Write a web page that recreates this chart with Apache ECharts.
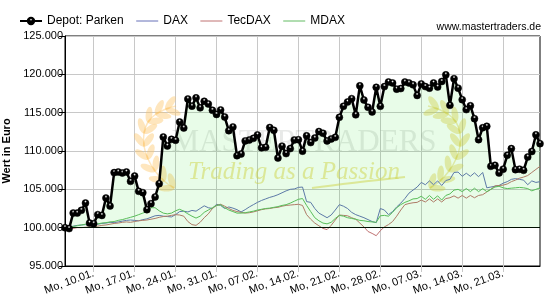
<!DOCTYPE html>
<html>
<head>
<meta charset="utf-8">
<script src="https://cdn.jsdelivr.net/npm/echarts@6/dist/echarts.min.js"></script>
<style>
html,body{margin:0;padding:0;background:#fff;}
#chart{width:550px;height:300px;}
</style>
</head>
<body>
<div id="chart"></div>
<script>
// ---- data (two quotes per trading day, 04.01. - 25.03.) ----
const depot = [
100000, 99880,101900,101900,102260,103210,100600,100520,101700,101600,
103860,102820,107180,107260,107130,107260,106040,106730,104740,104570,
102350,103130,104000,105740,111820,110650,111520,111390,113780,113000,
116780,115850,116930,115630,116480,116130,115310,114770,115350,114430,
112650,113130,109390,109600,111320,111430,111650,112100,110410,110480,
113060,112700,109080,110630,109660,110310,111430,111480,109980,111980,
111100,111680,112540,112310,111320,111560,111780,114390,115830,116390,
116830,114720,118500,116650,115700,115090,118300,115830,118400,119000,
118870,118070,118140,119000,118870,118630,117250,118750,118400,118200,
118870,118350,119060,119930,115960,119440,118200,116700,115400,115900,
114220,111480,113030,113220,108000,108130,107130,107630,109440,110310,
107570,107630,107480,109210,109930,112110,110960
];
const dax = [
100000,100050,100200,100300,100350,100400,100250,100300,100450,100550,
100600,100700,100650,100750,100850,100950,101000,100950,100900,101050,
101150,101350,101550,101600,101500,101450,101400,101700,102100,102150,
102050,102250,102150,102500,102850,102600,102500,103050,102900,102500,
102700,102550,102350,102050,102350,102700,103000,103300,103550,103750,
103950,104100,104300,104550,104800,105000,105050,105250,105300,103400,
103300,102500,101900,101600,101300,101650,102300,103000,102800,102500,
102000,101700,101500,101300,101050,100800,100650,102500,102300,101700,
102100,102700,103200,103800,104500,104900,105300,105900,105600,106100,
105600,106100,105500,106150,106300,107200,107250,106700,107100,106700,
107150,106650,107200,105200,105300,105400,105500,105800,106000,106300,
106400,106300,106200,105600,106100,105900,106000
];
const tecdax = [
100000, 99850, 99900,100000,100000,100050,100100,100100,100200,100300,
100350,100450,100550,100600,100700,100750,100700,100800,100900,100950,
101000,101100,101200,101350,101450,101500,101600,101700,101650,101500,
100800,100400,100300,100700,101300,101800,102500,102900,103050,102800,
102500,102250,102100,102000,101900,101950,102050,102200,102350,102450,
102500,102600,102650,102800,102900,102950,103000,103050,102900,101700,
101100,100600,100250, 99900, 99750,100300,101000,101650,101600,101550,
101300,101100,100600,100100, 99500, 99250, 98950, 99600,100100,100400,
100800,101500,102300,103000,103150,103250,103300,103600,103350,103750,
103350,103750,103350,103800,103900,104150,103850,104200,103850,104200,
103900,104200,104300,104650,105000,105450,105500,105550,105700,106000,
106200,106450,106600,106800,107200,107600,108000
];
const mdax = [
100000,100000,100150,100250,100350,100450,100300,100250,100500,100600,
100650,100750,100800,100950,101050,101200,101350,101500,101700,101900,
102100,102600,102600,102200,101900,101800,101900,102200,102400,102150,
101800,101500,101250,101500,102000,102300,102600,102900,103000,102600,
102300,102100,101900,101900,101950,102050,102150,102300,102400,102500,
102550,102650,102750,102900,103000,103200,103450,103700,103800,102900,
102100,101300,100900,100600,100500,100700,101200,101600,101500,101300,
101200,101100,100950,100900,100800,100750,100700,101550,101600,101500,
102000,102600,103000,103300,103500,103750,103800,104100,103700,104200,
103700,104150,103600,104200,104400,104900,105000,104700,105100,104700,
105150,104700,105100,104700,105000,105300,105400,105200,105100,105150,
105200,105250,105200,105100,104800,105000,105200
];
const seriesNames = ['Depot: Parken', 'DAX', 'TecDAX', 'MDAX'];
const seriesColors = ['#000000', '#6670b8', '#c07272', '#62bb62'];
const xTickLabels = ['Mo, 10.01.','Mo, 17.01.','Mo, 24.01.','Mo, 31.01.','Mo, 07.02.','Mo, 14.02.',
                     'Mo, 21.02.','Mo, 28.02.','Mo, 07.03.','Mo, 14.03.','Mo, 21.03.'];
const xTickIndex = [7,17,27,37,47,57,67,77,87,97,107];
const yMin = 95000, yMax = 125000, yStep = 5000;
const baseValue = 100000;

// ---- chart ----
const categories = depot.map((_, i) => String(i));
const labelAt = {};
xTickIndex.forEach((k, j) => { labelAt[k] = xTickLabels[j]; });
const isTick = (idx) => labelAt[idx] !== undefined;

const font = 'Liberation Sans, Arial, sans-serif';

function laurel(stem, mirror, color) {
  const els = [];
  const pts = stem.map(p => [mirror ? 604 - p[0] : p[0], p[1]]);
  els.push({type:'polyline', shape:{points: pts, smooth: 0.4}, style:{stroke: color, lineWidth: 1.5, fill: null}, z: 1, silent: true});
  for (let k = 0; k < stem.length - 1; k++) {
    const [x0, y0] = stem[k], [x1, y1] = stem[k + 1];
    const ang = Math.atan2(y1 - y0, x1 - x0);
    [-1, 1].forEach(side => {
      const a = ang + side * 0.65;
      let cx = x0 + Math.cos(a) * 7.5, cy = y0 + Math.sin(a) * 7.5;
      let rot = -a;
      if (mirror) { cx = 604 - cx; rot = a; }
      els.push({type:'ellipse', x: cx, y: cy, rotation: rot,
        shape:{cx:0, cy:0, rx:8, ry:3.3}, style:{fill: color}, z: 1, silent: true});
    });
  }
  return els;
}
const leftStem = [[174,188],[164,181],[155,171],[148,159],[144,146],[144,133],[148,122],[156,114],[166,109],[176,106]];

const lineIcon = (i) => ({name: seriesNames[i], icon: 'line',
  itemStyle: {color: seriesColors[i], borderColor: seriesColors[i], borderWidth: 1}});

const chart = echarts.init(document.getElementById('chart'), null, {renderer: 'canvas'});
chart.setOption({
  animation: false,
  backgroundColor: '#fff',
  legend: {
    left: 14, top: 10,
    itemWidth: 22, itemHeight: 8, itemGap: 12,
    textStyle: {fontFamily: font, fontSize: 12, color: '#000'},
    data: [{name: seriesNames[0]}, lineIcon(1), lineIcon(2), lineIcon(3)]
  },
  grid: {left: 65, right: 10, top: 36, bottom: 34, show: true, borderColor: '#000', borderWidth: 1,
         backgroundColor: 'transparent', containLabel: false, outerBoundsMode: 'none'},
  xAxis: {
    type: 'category', data: categories, boundaryGap: false,
    axisLine: {lineStyle: {color: '#000', width: 1}},
    axisTick: {show: true, interval: isTick, length: 6, lineStyle: {color: '#c8c8c8'}},
    splitLine: {show: true, interval: isTick, lineStyle: {color: '#c8c8c8', width: 1}},
    axisLabel: {interval: isTick, formatter: (v, idx) => labelAt[idx] || '', rotate: 20, margin: 7,
                fontFamily: font, fontSize: 11, color: '#000'}
  },
  yAxis: {
    type: 'value', min: yMin, max: yMax, interval: yStep,
    name: 'Wert in Euro', nameLocation: 'middle', nameGap: 50,
    nameTextStyle: {fontFamily: font, fontSize: 11, fontWeight: 'bold', color: '#000'},
    axisLine: {show: true, lineStyle: {color: '#000', width: 1}},
    axisTick: {show: true, length: 6, lineStyle: {color: '#000'}},
    splitLine: {show: true, lineStyle: {color: '#c8c8c8', width: 1}},
    axisLabel: {margin: 2, fontFamily: font, fontSize: 11, color: '#000',
                formatter: v => (v / 1000) + '.000'}
  },
  graphic: [
    {type: 'text', right: 9, top: 22, z: 5,
     style: {text: 'www.mastertraders.de', font: '10.5px ' + font, fill: '#000'}},
    {type: 'text', x: 304, y: 143, z: 1, silent: true,
     style: {text: 'MASTERTRADERS', font: '31px "Liberation Serif", serif', fill: 'rgba(110,120,110,0.16)',
             textAlign: 'center', textVerticalAlign: 'middle'}},
    {type: 'text', x: 294, y: 172, z: 1, silent: true,
     style: {text: 'Trading as a Passion', font: 'italic 25px "Liberation Serif", serif',
             fill: 'rgba(228,212,80,0.5)', textAlign: 'center', textVerticalAlign: 'middle'}},
    {type: 'bezierCurve', z: 1, silent: true,
     shape: {x1: 312, y1: 188, x2: 405, y2: 177, cpx1: 350, cpy1: 183},
     style: {stroke: 'rgba(228,212,80,0.5)', lineWidth: 2, fill: null}},
    ...laurel(leftStem, false, 'rgba(252,196,100,0.42)'),
    ...laurel(leftStem, true, 'rgba(226,208,80,0.42)')
  ],
  series: [
    {
      name: seriesNames[0], type: 'line', data: depot, z: 5,
      symbol: 'circle', symbolSize: 7, showSymbol: true, showAllSymbol: true,
      lineStyle: {color: seriesColors[0], width: 2.5},
      itemStyle: {color: {type: 'radial', x: 0.5, y: 0.3, r: 0.55,
        colorStops: [{offset: 0, color: '#ffffff'}, {offset: 0.35, color: '#000000'}, {offset: 1, color: '#000000'}]},
        borderColor: '#000', borderWidth: 0.5},
      areaStyle: {color: 'rgba(0,225,0,0.13)', origin: baseValue},
      markLine: {silent: true, symbol: 'none', label: {show: false},
        lineStyle: {color: '#000', width: 1, type: 'solid'}, data: [{yAxis: baseValue}]}
    },
    {name: seriesNames[1], type: 'line', data: dax, symbol: 'none', z: 3,
     lineStyle: {color: seriesColors[1], width: 1}, itemStyle: {color: seriesColors[1]}},
    {name: seriesNames[2], type: 'line', data: tecdax, symbol: 'none', z: 3,
     lineStyle: {color: seriesColors[2], width: 1}, itemStyle: {color: seriesColors[2]}},
    {name: seriesNames[3], type: 'line', data: mdax, symbol: 'none', z: 3,
     lineStyle: {color: seriesColors[3], width: 1}, itemStyle: {color: seriesColors[3]}}
  ]
});
</script>
</body>
</html>
